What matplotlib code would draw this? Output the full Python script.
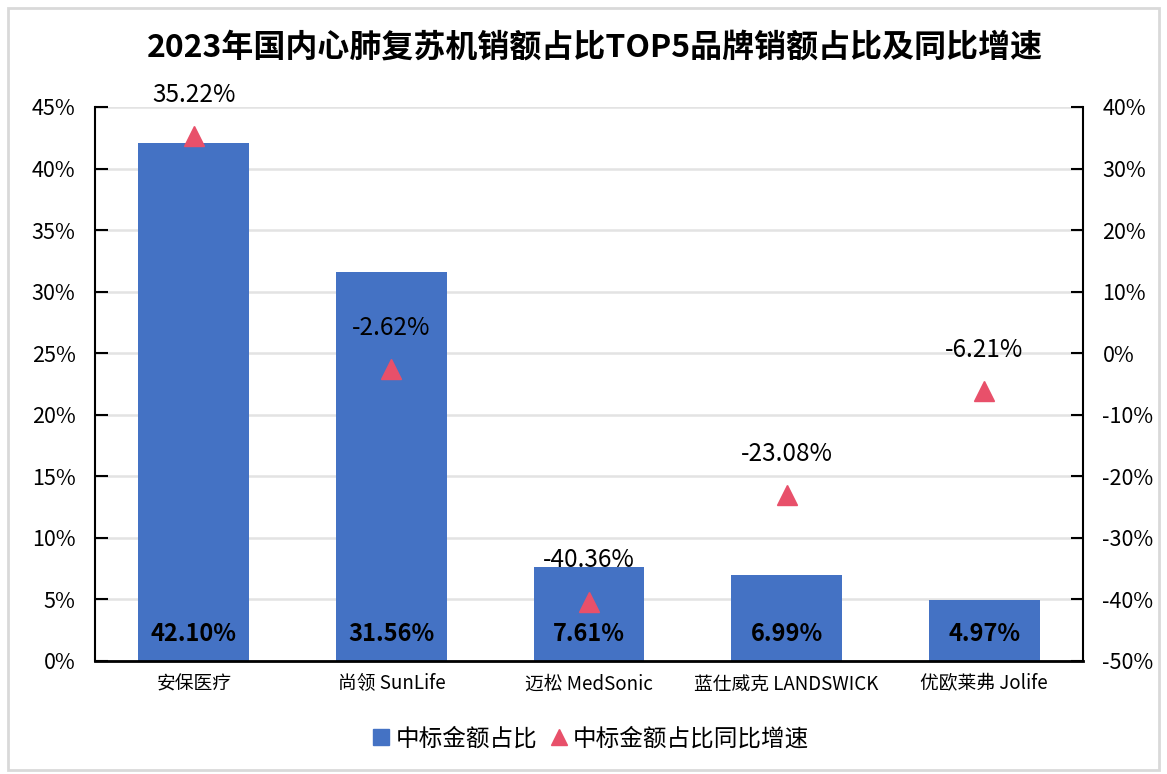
import matplotlib
matplotlib.use('Agg')
import matplotlib.pyplot as plt
from matplotlib.patches import Rectangle
from matplotlib.lines import Line2D
from matplotlib.ticker import FuncFormatter, MultipleLocator

plt.rcParams['font.family'] = ['Noto Sans CJK SC', 'DejaVu Sans']

# data
brands = ['安保医疗', '尚领 SunLife', '迈松 MedSonic', '蓝仕威克 LANDSWICK', '优欧莱弗 Jolife']
share = [42.10, 31.56, 7.61, 6.99, 4.97]
growth = [35.22, -2.62, -40.36, -23.08, -6.21]

title = '2023年国内心肺复苏机销额占比TOP5品牌销额占比及同比增速'
bar_name = '中标金额占比'
tri_name = '中标金额占比同比增速'

blue = '#4472C4'
red = '#E8506A'

fig = plt.figure(figsize=(11.67, 7.74), dpi=100)
fig.patches.append(Rectangle((0.007, 0.005), 0.986, 0.985, transform=fig.transFigure,
                             fill=False, edgecolor='#D9D9D9', linewidth=2))

ax = fig.add_axes([0.0814, 0.146, 0.8466, 0.7158])
x = list(range(len(brands)))
bars = ax.bar(x, share, width=0.56, color=blue, zorder=2)
ax.set_xlim(-0.5, len(brands) - 0.5)
ax.set_ylim(0, 45)
ax.yaxis.set_major_locator(MultipleLocator(5))
ax.yaxis.set_major_formatter(FuncFormatter(lambda v, p: f'{v:.0f}%'))
ax.grid(axis='y', color='#E3E3E3', linewidth=1.8, zorder=0)
ax.set_axisbelow(True)
ax.set_xticks(x)
ax.set_xticklabels(brands, fontsize=13.5)
ax.tick_params(axis='x', length=0, pad=9)
ax.tick_params(axis='y', direction='in', length=9, width=1.5, labelsize=15.5, pad=14)
for s in ['top', 'right']:
    ax.spines[s].set_visible(False)
ax.spines['left'].set_linewidth(1.5)
ax.spines['bottom'].set_linewidth(2)

for xi, v in zip(x, share):
    ax.text(xi, 2.2, f'{v:.2f}%', ha='center', va='center', fontsize=17,
            fontweight='bold', color='black', zorder=4)

ax2 = ax.twinx()
ax2.set_ylim(-50, 40)
ax2.yaxis.set_major_locator(MultipleLocator(10))
ax2.yaxis.set_major_formatter(FuncFormatter(lambda v, p: f'{v:.0f}%'))
ax2.plot(x, growth, linestyle='none', marker='^', markersize=15, color=red, zorder=5)
ax2.tick_params(axis='y', direction='in', length=9, width=1.5, labelsize=15.5, pad=14)
for s in ['top', 'left', 'bottom']:
    ax2.spines[s].set_visible(False)
ax2.spines['right'].set_linewidth(1.5)
for xi, g in zip(x, growth):
    ax2.annotate(f'{g:.2f}%', (xi, g), xytext=(0, 30), textcoords='offset points',
                 ha='center', va='center', fontsize=17.5)

fig.text(0.51, 0.938, title, ha='center', va='center', fontsize=23, fontweight='bold')

handles = [Line2D([], [], linestyle='none', marker='s', markersize=12, color=blue),
           Line2D([], [], linestyle='none', marker='^', markersize=12, color=red)]
fig.legend(handles, [bar_name, tri_name], loc='center', bbox_to_anchor=(0.505, 0.045),
           ncol=2, frameon=False, fontsize=17, handletextpad=0.1, columnspacing=0.4,
           handlelength=1.0)

fig.savefig('out.png', dpi=100)
